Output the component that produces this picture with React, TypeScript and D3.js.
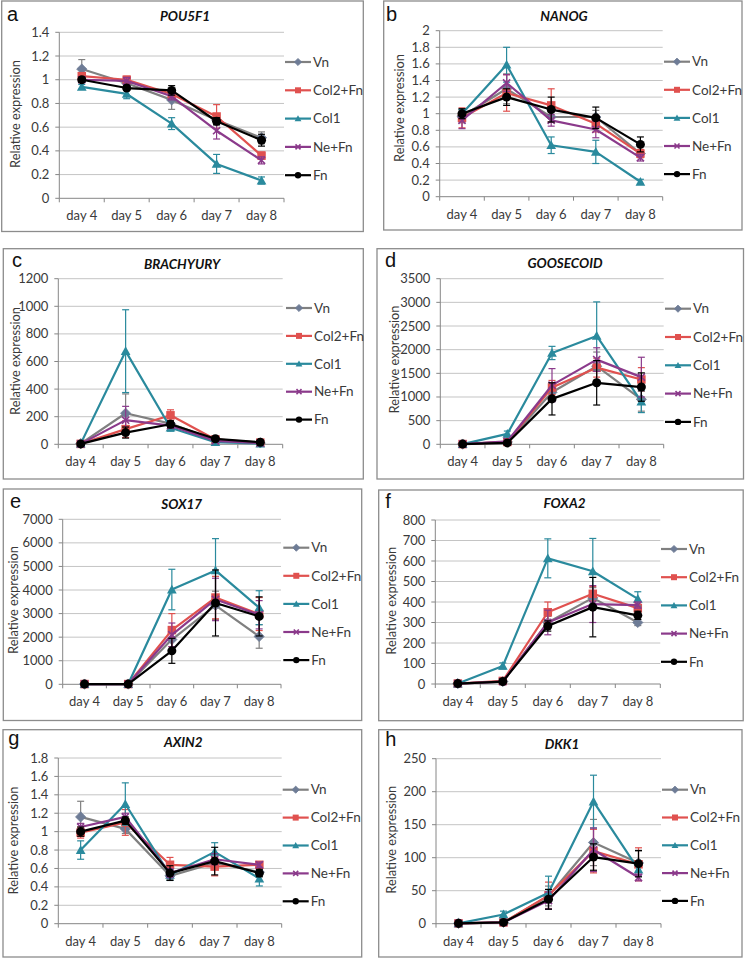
import React from "react";
import * as d3 from "d3";

const DAYS = ["day 4", "day 5", "day 6", "day 7", "day 8"];
const SERIES = ["Vn", "Col2+Fn", "Col1", "Ne+Fn", "Fn"];

// Means per series (order: Vn, Col2+Fn, Col1, Ne+Fn, Fn)
const POU5F1_MEAN = [
  [1.09, 0.97, 0.83, 0.66, 0.51],
  [1.03, 1.0, 0.88, 0.69, 0.36],
  [0.94, 0.88, 0.63, 0.29, 0.15],
  [1.0, 0.99, 0.86, 0.57, 0.32],
  [1.0, 0.93, 0.91, 0.65, 0.49],
];
const POU5F1_ERR = [
  [0.08, 0.03, 0.08, 0.04, 0.05],
  [0.03, 0.03, 0.03, 0.1, 0.03],
  [0.02, 0.04, 0.05, 0.08, 0.03],
  [0.02, 0.03, 0.03, 0.07, 0.03],
  [0.02, 0.02, 0.04, 0.03, 0.05],
];
const NANOG_MEAN = [
  [0.97, 1.3, 0.96, 0.96, 0.52],
  [0.95, 1.25, 1.1, 0.88, 0.52],
  [1.0, 1.59, 0.62, 0.54, 0.18],
  [0.92, 1.37, 0.92, 0.81, 0.47],
  [1.0, 1.2, 1.05, 0.95, 0.63],
];
const NANOG_ERR = [
  [0.08, 0.18, 0.06, 0.08, 0.04],
  [0.12, 0.22, 0.2, 0.1, 0.05],
  [0.05, 0.21, 0.1, 0.14, 0.03],
  [0.1, 0.1, 0.07, 0.1, 0.04],
  [0.06, 0.1, 0.15, 0.13, 0.09],
];
const BRACHYURY_MEAN = [
  [5, 225, 150, 30, 10],
  [3, 110, 210, 35, 12],
  [5, 675, 120, 15, 5],
  [3, 175, 135, 25, 8],
  [3, 85, 145, 40, 15],
];
const BRACHYURY_ERR = [
  [2, 140, 20, 8, 3],
  [1, 60, 40, 8, 4],
  [2, 300, 25, 5, 2],
  [1, 100, 20, 6, 3],
  [1, 40, 25, 8, 4],
];
const GOOSECOID_MEAN = [
  [5, 50, 1100, 1650, 950],
  [5, 50, 1200, 1620, 1370],
  [5, 220, 1930, 2290, 900],
  [5, 60, 1250, 1790, 1420],
  [5, 30, 960, 1300, 1210],
];
const GOOSECOID_ERR = [
  [2, 15, 200, 300, 250],
  [2, 15, 150, 200, 250],
  [2, 60, 140, 720, 230],
  [2, 20, 350, 250, 420],
  [2, 10, 340, 470, 300],
];
const SOX17_MEAN = [
  [10, 10, 1900, 3350, 2030],
  [10, 10, 2300, 3680, 2980],
  [10, 10, 4020, 4830, 3250],
  [10, 10, 2100, 3600, 2950],
  [10, 10, 1420, 3450, 2880],
];
const SOX17_ERR = [
  [5, 5, 500, 600, 500],
  [5, 5, 700, 900, 700],
  [5, 5, 860, 1350, 720],
  [5, 5, 500, 900, 600],
  [5, 5, 530, 1400, 830],
];
const FOXA2_MEAN = [
  [2, 12, 300, 420, 300],
  [2, 15, 350, 440, 370],
  [2, 88, 613, 550, 415],
  [2, 12, 300, 390, 385],
  [2, 12, 283, 375, 335],
];
const FOXA2_ERR = [
  [1, 3, 30, 50, 15],
  [1, 4, 50, 35, 20],
  [1, 15, 95, 160, 35],
  [1, 3, 60, 90, 15],
  [1, 3, 25, 145, 20],
];
const AXIN2_MEAN = [
  [1.16, 1.03, 0.52, 0.66, 0.56],
  [0.99, 1.1, 0.64, 0.62, 0.64],
  [0.8, 1.3, 0.53, 0.78, 0.49],
  [1.05, 1.16, 0.55, 0.7, 0.64],
  [1.0, 1.12, 0.55, 0.68, 0.55],
];
const AXIN2_ERR = [
  [0.17, 0.05, 0.04, 0.06, 0.04],
  [0.06, 0.14, 0.08, 0.1, 0.03],
  [0.1, 0.23, 0.06, 0.1, 0.08],
  [0.04, 0.04, 0.05, 0.06, 0.03],
  [0.05, 0.04, 0.08, 0.15, 0.04],
];
const DKK1_MEAN = [
  [0.5, 2, 42, 123, 92],
  [0.5, 2, 43, 110, 90],
  [0.5, 14, 47, 185, 82],
  [0.5, 2, 35, 112, 70],
  [0.5, 2, 37, 101, 91],
];
const DKK1_ERR = [
  [0.2, 1, 15, 35, 18],
  [0.2, 1, 20, 33, 25],
  [0.2, 5, 25, 40, 10],
  [0.2, 1, 13, 33, 5],
  [0.2, 1, 15, 20, 20],
];

const STYLE = [
  { line: "#808080", marker: "#6e7c96", shape: "diamond" },
  { line: "#e0514f", marker: "#e0514f", shape: "square" },
  { line: "#2a8a9d", marker: "#2a8a9d", shape: "triangle" },
  { line: "#8b3a8b", marker: "#8b3a8b", shape: "x" },
  { line: "#000000", marker: "#000000", shape: "circle" },
];

const PANELS = [
  { letter: "a", gene: "POU5F1", mean: POU5F1_MEAN, err: POU5F1_ERR, max: 1.4, step: 0.2,
    box: [1.7, 1, 361.6, 230.5], x0: 59.3, x1: 284, yT: 32.3, yB: 198.3,
    legX: 285, legY: 62, legStep: 28.3, titleX: 185, titleY: 20.7, letX: 7, letY: 20.7, yLabX: 16.7, yLabY: 114 },
  { letter: "b", gene: "NANOG", mean: NANOG_MEAN, err: NANOG_ERR, max: 2, step: 0.2,
    box: [383.7, 1, 358.3, 229], x0: 439.7, x1: 662.7, yT: 30.7, yB: 196.7,
    legX: 664, legY: 61.7, legStep: 28.1, titleX: 564, titleY: 20.7, letX: 386, letY: 20.7, yLabX: 401, yLabY: 108 },
  { letter: "c", gene: "BRACHYURY", mean: BRACHYURY_MEAN, err: BRACHYURY_ERR, max: 1200, step: 200,
    box: [3.3, 248.7, 360, 230.3], x0: 58.3, x1: 282.7, yT: 278.7, yB: 444.3,
    legX: 286, legY: 308, legStep: 27.9, titleX: 182, titleY: 268.7, letX: 12, letY: 267, yLabX: 16.7, yLabY: 361 },
  { letter: "d", gene: "GOOSECOID", mean: GOOSECOID_MEAN, err: GOOSECOID_ERR, max: 3500, step: 500,
    box: [377, 248.7, 366.5, 230.3], x0: 440.3, x1: 663.7, yT: 278.7, yB: 444.3,
    legX: 665, legY: 308.7, legStep: 28.3, titleX: 565, titleY: 267.7, letX: 385, letY: 267, yLabX: 395.3, yLabY: 359.5 },
  { letter: "e", gene: "SOX17", mean: SOX17_MEAN, err: SOX17_ERR, max: 7000, step: 1000,
    box: [3.3, 489, 358.4, 231.5], x0: 62.7, x1: 281, yT: 519.3, yB: 684.3,
    legX: 283.3, legY: 547.7, legStep: 28.1, titleX: 181.7, titleY: 509.3, letX: 10, letY: 508.3, yLabX: 15, yLabY: 600 },
  { letter: "f", gene: "FOXA2", mean: FOXA2_MEAN, err: FOXA2_ERR, max: 800, step: 100,
    box: [378.7, 490, 364.5, 230.7], x0: 435.3, x1: 660.3, yT: 520, yB: 684,
    legX: 661, legY: 549, legStep: 28.2, titleX: 564.5, titleY: 508.3, letX: 385.3, letY: 508.3, yLabX: 393, yLabY: 600.7 },
  { letter: "g", gene: "AXIN2", mean: AXIN2_MEAN, err: AXIN2_ERR, max: 1.8, step: 0.2,
    box: [3, 729.7, 358.7, 227.3], x0: 58.3, x1: 281.7, yT: 758, yB: 923.7,
    legX: 282.7, legY: 789.7, legStep: 27.9, titleX: 183.3, titleY: 747.3, letX: 8.3, letY: 745, yLabX: 14.7, yLabY: 840.5 },
  { letter: "h", gene: "DKK1", mean: DKK1_MEAN, err: DKK1_ERR, max: 250, step: 50,
    box: [378.7, 729.7, 363.3, 227.3], x0: 436, x1: 661, yT: 758.7, yB: 923.7,
    legX: 662, legY: 789.7, legStep: 27.8, titleX: 562, titleY: 748.7, letX: 385.3, letY: 746.3, yLabX: 393, yLabY: 839.7 },
];

const FONT = "Lato, 'Open Sans', sans-serif";

function Marker({ shape, x, y, s, color }: { shape: string; x: number; y: number; s: number; color: string }) {
  if (shape === "diamond") {
    const r = s * 0.6;
    return <path d={`M${x},${y - r}L${x + r},${y}L${x},${y + r}L${x - r},${y}Z`} fill={color} stroke={color} strokeWidth={0.8} />;
  }
  if (shape === "square") {
    const h = s * 0.5;
    return <rect x={x - h} y={y - h} width={2 * h} height={2 * h} fill={color} />;
  }
  if (shape === "triangle") {
    const h = s * 0.57;
    return <path d={`M${x},${y - h}L${x + h},${y + h * 0.8}L${x - h},${y + h * 0.8}Z`} fill={color} />;
  }
  if (shape === "x") {
    const h = s * 0.42;
    return (
      <path d={`M${x - h},${y - h}L${x + h},${y + h}M${x - h},${y + h}L${x + h},${y - h}`} stroke={color} strokeWidth={1.6} fill="none" />
    );
  }
  return <circle cx={x} cy={y} r={s * 0.53} fill={color} />;
}

function fmt(v: number) {
  return String(+v.toFixed(3));
}

function Panel({ p }: { p: (typeof PANELS)[number] }) {
  const x = d3.scaleBand<string>().domain(DAYS).range([p.x0, p.x1]).paddingInner(0).paddingOuter(0);
  const y = d3.scaleLinear().domain([0, p.max]).range([p.yB, p.yT]);
  const ticks = d3.range(0, p.max + p.step / 2, p.step).map((v) => +v.toFixed(4));
  const cx = (i: number) => (x(DAYS[i]) as number) + x.bandwidth() / 2;
  const line = d3
    .line<number>()
    .x((_, i) => cx(i))
    .y((v) => y(v));
  const boundaries = DAYS.map((d) => x(d) as number).concat([p.x1]);
  const [bx, by, bw, bh] = p.box;
  const capW = 3.5;
  return (
    <g>
      <rect x={bx} y={by} width={bw} height={bh} fill="#fff" stroke="#8c8c8c" strokeWidth={1.3} />
      <text x={p.letX} y={p.letY} fontFamily="'Liberation Sans', Arial, sans-serif" fontSize={20} fill="#111">
        {p.letter}
      </text>
      <text x={p.titleX} y={p.titleY} textAnchor="middle" fontFamily={FONT} fontWeight="bold" fontStyle="italic" fontSize={13.5} fill="#111">
        {p.gene}
      </text>
      {ticks.map((t) => (
        <g key={t}>
          {t > 0 && <line x1={p.x0} x2={p.x1} y1={y(t)} y2={y(t)} stroke="#c4c4c4" strokeWidth={1} />}
          <line x1={p.x0 - 4} x2={p.x0} y1={y(t)} y2={y(t)} stroke="#868686" strokeWidth={1} />
          <text x={p.x0 - 10} y={y(t) + 4.5} textAnchor="end" fontFamily={FONT} fontSize={13} fill="#3a3a3a">
            {fmt(t)}
          </text>
        </g>
      ))}
      <line x1={p.x0} x2={p.x0} y1={p.yT} y2={p.yB} stroke="#868686" strokeWidth={1} />
      <line x1={p.x0} x2={p.x1} y1={p.yB} y2={p.yB} stroke="#868686" strokeWidth={1} />
      {boundaries.map((b, i) => (
        <line key={i} x1={b} x2={b} y1={p.yB} y2={p.yB + 4} stroke="#868686" strokeWidth={1} />
      ))}
      {DAYS.map((d, i) => (
        <text key={d} x={cx(i)} y={p.yB + 22} textAnchor="middle" fontFamily={FONT} fontSize={13} fill="#3a3a3a">
          {d}
        </text>
      ))}
      <text
        transform={`translate(${p.yLabX},${p.yLabY}) rotate(-90)`}
        textAnchor="middle"
        dominantBaseline="middle"
        fontFamily={FONT}
        fontSize={12.8}
        fill="#3a3a3a"
      >
        Relative expression
      </text>
      {p.mean.map((vals, si) => {
        const st = STYLE[si];
        const errs = p.err[si];
        return (
          <g key={si}>
            <path d={line(vals) as string} fill="none" stroke={st.line} strokeWidth={2.2} strokeLinejoin="round" />
            {vals.map((v, i) => {
              const lo = y(Math.max(0, v - errs[i]));
              const hi = y(v + errs[i]);
              const X = cx(i);
              return (
                <g key={i} stroke={st.line} strokeWidth={1.2}>
                  <line x1={X} x2={X} y1={lo} y2={hi} />
                  <line x1={X - capW} x2={X + capW} y1={hi} y2={hi} />
                  <line x1={X - capW} x2={X + capW} y1={lo} y2={lo} />
                </g>
              );
            })}
            {vals.map((v, i) => (
              <Marker key={i} shape={st.shape} x={cx(i)} y={y(v)} s={8.5} color={st.marker} />
            ))}
          </g>
        );
      })}
      {SERIES.map((name, si) => {
        const st = STYLE[si];
        const ly = p.legY + si * p.legStep;
        return (
          <g key={name}>
            <line x1={p.legX} x2={p.legX + 26} y1={ly} y2={ly} stroke={st.line} strokeWidth={2.2} />
            <Marker shape={st.shape} x={p.legX + 13} y={ly} s={6} color={st.marker} />
            <text x={p.legX + 28} y={ly + 4.7} fontFamily={FONT} fontSize={13.5} fill="#3a3a3a">
              {name}
            </text>
          </g>
        );
      })}
    </g>
  );
}

export default function App() {
  return (
    <svg
      width={745}
      height={959}
      viewBox="0 0 745 959"
      style={{ position: "absolute", left: 0, top: 0, background: "#fff" }}
    >
      <rect x={0} y={0} width={745} height={959} fill="#fff" />
      {PANELS.map((p) => (
        <Panel key={p.letter} p={p} />
      ))}
    </svg>
  );
}
